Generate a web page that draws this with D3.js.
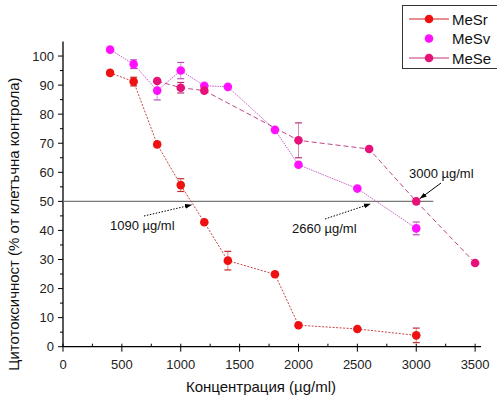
<!DOCTYPE html>
<html><head><meta charset="utf-8">
<script src="https://cdn.jsdelivr.net/npm/d3@7"></script>
<style>body{margin:0;background:#fff}svg{display:block;font-family:Arial,"Liberation Sans",sans-serif}</style>
</head><body><svg id="c" width="497" height="398"></svg>
<script>
const seriesNames = ["MeSr","MeSv","MeSe"];
const mesrX = [400,600,800,1000,1200,1400,1800,2000,2500,3000];
const mesrY = [94.2,91.2,69.6,55.6,42.8,29.6,24.9,7.4,6.1,3.9];
const mesrErr = [0.8,1.5,0.8,2.2,0.6,3.2,0.6,0.6,0.6,2.5];
const mesvX = [400,600,800,1000,1200,1400,1800,2000,2500,3000];
const mesvY = [102.2,97.2,88.1,95.0,89.8,89.4,74.6,62.6,54.4,40.7];
const mesvErr = [0.6,1.5,3.2,2.8,0.8,0.6,0.6,0.8,0.6,2.2];
const meseX = [800,1000,1200,2000,2600,3000,3500];
const meseY = [91.4,89.1,88.1,71.0,68.0,50.0,28.8];
const meseErr = [1.0,1.8,1.0,6.0,0.6,0.8,1.2];
const xTicks = [0,500,1000,1500,2000,2500,3000,3500];
const yTicks = [0,10,20,30,40,50,60,70,80,90,100];
const refLevel = 50;
const annotations = [
  {label:"1090 \u00b5g/ml", x:1090},
  {label:"2660 \u00b5g/ml", x:2660},
  {label:"3000 \u00b5g/ml", x:3000}
];
const xLabel = "Концентрация (\u00b5g/ml)";
const yLabel = "Цитотоксичност (% от клетъчна контрола)";

const colors = {MeSr:"#ee1111", MeSv:"#ff10ff", MeSe:"#e6127a"};
const lineColors = {MeSr:"#c03030", MeSv:"#c050c0", MeSe:"#b8307a"};
const dashes = {MeSr:"2,1.5", MeSv:"1.5,1", MeSe:"5,3"};

const svg = d3.select("#c");
const x = d3.scaleLinear().domain([0,3550]).range([63,481]);
const y = d3.scaleLinear().domain([0,105]).range([346.7,41.5]);

svg.append("defs").append("marker").attr("id","ah").attr("viewBox","0 0 10 10")
  .attr("refX",9).attr("refY",5).attr("markerWidth",7).attr("markerHeight",7)
  .attr("orient","auto").append("path").attr("d","M0,1.5L10,5L0,8.5Z").attr("fill","#000");

// axes
const xAx = svg.append("g").attr("transform",`translate(0,${y(0)})`);
xAx.append("line").attr("x1",x(0)).attr("x2",x(3550)).attr("stroke","#000").attr("stroke-width",1.3);
xAx.selectAll("line.mj").data(xTicks).join("line").attr("x1",d=>x(d)).attr("x2",d=>x(d)).attr("y1",-3).attr("y2",5).attr("stroke","#000");
xAx.selectAll("line.mn").data(d3.range(250,3550,500)).join("line").attr("x1",d=>x(d)).attr("x2",d=>x(d)).attr("y1",-3).attr("y2",0).attr("stroke","#000");
xAx.selectAll("text").data(xTicks).join("text").attr("x",d=>x(d)).attr("y",22).attr("text-anchor","middle").attr("font-size",13).attr("fill","#222").text(d=>d);

const yAx = svg.append("g").attr("transform",`translate(${x(0)},0)`);
yAx.append("line").attr("y1",y(0)).attr("y2",y(105)).attr("stroke","#000").attr("stroke-width",1.3);
yAx.selectAll("line.mj").data(yTicks).join("line").attr("y1",d=>y(d)).attr("y2",d=>y(d)).attr("x1",-5).attr("x2",0).attr("stroke","#000");
yAx.selectAll("line.mn").data(d3.range(5,105,10)).join("line").attr("y1",d=>y(d)).attr("y2",d=>y(d)).attr("x1",-3).attr("x2",0).attr("stroke","#000");
yAx.selectAll("text").data(yTicks).join("text").attr("x",-9).attr("y",d=>y(d)+4.5).attr("text-anchor","end").attr("font-size",13).attr("fill","#222").text(d=>d);

svg.append("text").attr("x",261).attr("y",392).attr("text-anchor","middle").attr("font-size",15).attr("fill","#111").text(xLabel);
svg.append("text").attr("transform",`translate(19,${y(0)+24}) rotate(-90)`).attr("font-size",15).attr("fill","#111").text(yLabel);

// reference line
svg.append("line").attr("x1",x(0)).attr("x2",x(3145)).attr("y1",y(refLevel)).attr("y2",y(refLevel)).attr("stroke","#777").attr("stroke-width",1.4);

const series = [
  {name:"MeSr", xs:mesrX, ys:mesrY, es:mesrErr},
  {name:"MeSv", xs:mesvX, ys:mesvY, es:mesvErr},
  {name:"MeSe", xs:meseX, ys:meseY, es:meseErr}
];
const line = d3.line().x(d=>x(d[0])).y(d=>y(d[1]));
series.forEach(s=>{
  const pts = s.xs.map((v,i)=>[v,s.ys[i],s.es[i]]);
  svg.append("path").datum(pts).attr("d",line).attr("fill","none").attr("stroke",lineColors[s.name]).attr("stroke-width",0.9).attr("stroke-dasharray",dashes[s.name]);
});
series.forEach(s=>{
  const pts = s.xs.map((v,i)=>[v,s.ys[i],s.es[i]]);
  const g = svg.append("g");
  g.selectAll("line.e").data(pts).join("line").attr("x1",d=>x(d[0])).attr("x2",d=>x(d[0])).attr("y1",d=>y(d[1]-d[2])).attr("y2",d=>y(d[1]+d[2])).attr("stroke",lineColors[s.name]).attr("stroke-width",0.8).attr("opacity",0.7);
  [-1,1].forEach(sg=>{
    g.selectAll("line.c"+sg).data(pts.filter(d=>d[2]>1.4)).join("line").attr("x1",d=>x(d[0])-3.5).attr("x2",d=>x(d[0])+3.5).attr("y1",d=>y(d[1]+sg*d[2])).attr("y2",d=>y(d[1]+sg*d[2])).attr("stroke",lineColors[s.name]).attr("stroke-width",1.2);
  });
  g.selectAll("circle").data(pts).join("circle").attr("cx",d=>x(d[0])).attr("cy",d=>y(d[1])).attr("r",4.3).attr("fill",colors[s.name]);
});

// annotations
const a = annotations;
svg.append("text").attr("x",110).attr("y",230).attr("font-size",13).attr("fill","#111").text(a[0].label);
svg.append("line").attr("x1",144).attr("y1",216).attr("x2",x(a[0].x)).attr("y2",205).attr("stroke","#000").attr("stroke-width",1).attr("stroke-dasharray","1.5,1.5").attr("marker-end","url(#ah)");
svg.append("text").attr("x",292).attr("y",233).attr("font-size",13).attr("fill","#111").text(a[1].label);
svg.append("line").attr("x1",325).attr("y1",219).attr("x2",x(a[1].x)-6).attr("y2",204).attr("stroke","#000").attr("stroke-width",1).attr("stroke-dasharray","1.5,1.5").attr("marker-end","url(#ah)");
svg.append("text").attr("x",409).attr("y",178).attr("font-size",13).attr("fill","#111").text(a[2].label);
svg.append("line").attr("x1",441).attr("y1",183).attr("x2",x(a[2].x)+4).attr("y2",y(refLevel)-3).attr("stroke","#000").attr("stroke-width",1).attr("marker-end","url(#ah)");

// legend
const lg = svg.append("g");
lg.append("rect").attr("x",402.5).attr("y",5.5).attr("width",100).attr("height",63).attr("fill","#fff").attr("stroke","#333").attr("stroke-width",1);
seriesNames.forEach((n,i)=>{
  const yy = 19 + i*19.5;
  if(n!=="MeSv") lg.append("line").attr("x1",409).attr("x2",449).attr("y1",yy).attr("y2",yy).attr("stroke",n==="MeSr"?"#d02020":"#c0307a").attr("stroke-width",1);
  lg.append("circle").attr("cx",429).attr("cy",yy).attr("r",4.3).attr("fill",colors[n]);
  lg.append("text").attr("x",452).attr("y",yy+5.5).attr("font-size",15).attr("fill","#111").text(n);
});
</script></body></html>
